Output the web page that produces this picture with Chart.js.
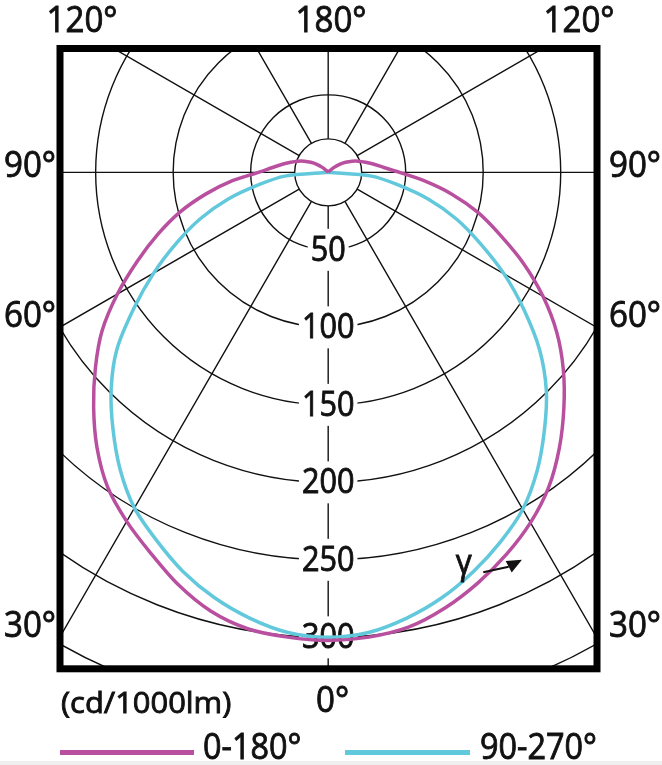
<!DOCTYPE html>
<html>
<head>
<meta charset="utf-8">
<script src="https://cdn.jsdelivr.net/npm/chart.js@4.4.0/dist/chart.umd.min.js"></script>
<style>
  html, body { margin: 0; padding: 0; background: #fff; }
  canvas { display: block; }
</style>
</head>
<body>
<canvas id="polarChart" width="662" height="765"></canvas>
<script>
// gamma angles (deg from nadir) and intensities in cd/1000lm
const GAMMA = [0, 5, 10, 15, 20, 25, 30, 35, 40, 45, 50, 55, 60, 65, 70, 75, 80, 85, 90,
  95, 100, 105, 110, 115, 120, 125, 130, 135, 140, 145, 150, 155, 160, 165, 170, 175, 180];

const C180 = [302, 301, 299, 293, 283, 271, 260, 248, 232, 214, 196, 178, 157, 136, 117, 99, 80, 62, 45,
  36, 30, 25, 21, 17, 13, 9, 5, 2, 1, 0, 0, 0, 0, 0, 0, 0, 0];
const C0 = [302, 301, 298, 291, 282, 272, 261, 248, 232, 215, 198, 180, 160, 139, 118, 100, 81, 62, 46,
  36, 30, 25, 21, 17, 13, 9, 5, 2, 1, 0, 0, 0, 0, 0, 0, 0, 0];
const C270 = [300, 298, 292, 284, 274, 262, 250, 234, 216, 198, 178, 153, 130, 108, 88, 67, 45, 28, 0,
  0, 0, 0, 0, 0, 0, 0, 0, 0, 0, 0, 0, 0, 0, 0, 0, 0, 0];
const C90 = [300, 298, 292, 284, 274, 263, 251, 235, 217, 199, 178, 154, 131, 108, 88, 67, 45, 28, 0,
  0, 0, 0, 0, 0, 0, 0, 0, 0, 0, 0, 0, 0, 0, 0, 0, 0, 0];

const RINGS = [50, 100, 150, 200, 250, 300, 350];
const RING_LABELS = [50, 100, 150, 200, 250, 300];
const RAY_ANGLES = [30, 60, 90, 120, 150, 180];
const HUB = 21.6;

const SERIES = ['0-180°', '90-270°'];
const COLORS = ['#b9509f', '#62c8dc'];

const FONT = '"Open Sans", "DejaVu Sans", sans-serif';
const rad = Math.PI / 180;

function side(values, sign) {
  return values.map((v, i) => ({
    x: sign * v * Math.sin(GAMMA[i] * rad),
    y: -v * Math.cos(GAMMA[i] * rad)
  }));
}

// closed curve: left half from 180 down to 0, right half from 0 back up to 180
function loop(left, right) {
  return side(left, -1).reverse().concat(side(right, 1).slice(1));
}

// slightly condensed, slightly heavier text
function text(ctx, s, x, y, size, align, sx) {
  ctx.save();
  ctx.font = size + 'px ' + FONT;
  ctx.translate(x, y);
  ctx.scale(sx || 0.92, 1);
  ctx.textAlign = align || 'left';
  ctx.strokeStyle = ctx.fillStyle;
  ctx.lineWidth = 0.9;
  ctx.fillText(s, 0, 0);
  ctx.strokeText(s, 0, 0);
  ctx.restore();
}

const gridPlugin = {
  id: 'polarGrid',
  beforeDatasetsDraw(chart) {
    const { ctx, chartArea: a, scales: { x, y } } = chart;
    const cx = x.getPixelForValue(0), cy = y.getPixelForValue(0);
    const k = x.getPixelForValue(1) - cx;
    const h = HUB * k;

    ctx.save();
    ctx.beginPath();
    ctx.rect(a.left, a.top, a.width, a.height);
    ctx.clip();
    ctx.strokeStyle = '#111';
    ctx.lineWidth = 1.4;

    RINGS.concat([HUB]).forEach(r => {
      ctx.beginPath();
      ctx.arc(cx, cy, r * k, 0, 2 * Math.PI);
      ctx.stroke();
    });

    ctx.beginPath();
    RAY_ANGLES.forEach(g => {
      [-1, 1].forEach(s => {
        const dx = s * Math.sin(g * rad), dy = Math.cos(g * rad);
        ctx.moveTo(cx + dx * h, cy + dy * h);
        ctx.lineTo(cx + dx * 2000, cy + dy * 2000);
      });
    });
    ctx.moveTo(cx, cy + h);
    ctx.lineTo(cx, a.bottom);
    ctx.stroke();

    ctx.textBaseline = 'middle';
    ctx.font = '34px ' + FONT;
    RING_LABELS.forEach(r => {
      const ly = y.getPixelForValue(-r);
      const w = ctx.measureText(String(r)).width * 0.9;
      ctx.fillStyle = '#fff';
      ctx.fillRect(cx - w / 2 - 3, ly - 21, w + 6, 42);
      ctx.fillStyle = '#111';
      text(ctx, String(r), cx, ly + 1, 34, 'center', 0.9);
    });
    ctx.restore();
  },
  afterDraw(chart) {
    const { ctx, chartArea: a, scales: { x, y } } = chart;
    ctx.save();
    ctx.strokeStyle = '#000';
    ctx.lineWidth = 7;
    ctx.strokeRect(a.left, a.top, a.width, a.height);

    ctx.fillStyle = '#111';
    ctx.textBaseline = 'alphabetic';
    text(ctx, '120°', 82, 32, 36, 'center');
    text(ctx, '180°', 331, 32, 36, 'center');
    text(ctx, '120°', 579, 32, 36, 'center');
    [['90°', 177], ['60°', 327], ['30°', 637]].forEach(([s, by]) => {
      text(ctx, s, 4, by, 36, 'left');
      text(ctx, s, 609, by, 36, 'left');
    });
    text(ctx, '0°', 316, 712, 36, 'left');
    text(ctx, '(cd/1000lm)', 61, 713, 30, 'left', 1.03);

    // gamma arrow
    const tail = [x.getPixelForValue(100), y.getPixelForValue(-258)];
    const tip = [x.getPixelForValue(125), y.getPixelForValue(-250)];
    const ang = Math.atan2(tip[1] - tail[1], tip[0] - tail[0]) - 10 * rad;
    const bx = tip[0] - 15 * Math.cos(ang), by = tip[1] - 15 * Math.sin(ang);
    ctx.strokeStyle = '#111';
    ctx.lineWidth = 2;
    ctx.beginPath();
    ctx.moveTo(tail[0], tail[1]);
    ctx.lineTo(bx, by);
    ctx.stroke();
    ctx.beginPath();
    ctx.moveTo(tip[0], tip[1]);
    ctx.lineTo(bx + 6.5 * Math.sin(ang), by - 6.5 * Math.cos(ang));
    ctx.lineTo(bx - 6.5 * Math.sin(ang), by + 6.5 * Math.cos(ang));
    ctx.closePath();
    ctx.fill();
    text(ctx, 'γ', x.getPixelForValue(87.5), y.getPixelForValue(-259), 34, 'center');

    // legend
    const items = [[60, 194, 203], [345, 470, 480]];
    items.forEach(([x0, x1, tx], i) => {
      ctx.strokeStyle = COLORS[i];
      ctx.lineWidth = 5;
      ctx.beginPath();
      ctx.moveTo(x0, 752.5);
      ctx.lineTo(x1, 752.5);
      ctx.stroke();
      ctx.fillStyle = '#111';
      text(ctx, SERIES[i], tx, 759, 36, 'left', 0.9);
    });

    ctx.fillStyle = '#efefef';
    ctx.fillRect(0, 761, 662, 4);
    ctx.restore();
  }
};

new Chart(document.getElementById('polarChart').getContext('2d'), {
  type: 'scatter',
  data: {
    datasets: [
      {
        label: SERIES[0],
        data: loop(C180, C0),
        showLine: true,
        borderColor: COLORS[0],
        borderWidth: 3.5,
        pointRadius: 0,
        tension: 0.3
      },
      {
        label: SERIES[1],
        data: loop(C270, C90),
        showLine: true,
        borderColor: COLORS[1],
        borderWidth: 3.5,
        pointRadius: 0,
        tension: 0.3
      }
    ]
  },
  options: {
    responsive: false,
    animation: false,
    layout: { padding: { left: 60, right: 65, top: 48.5, bottom: 96.2 } },
    scales: {
      x: { type: 'linear', min: -173.0, max: 173.4, display: false },
      y: { type: 'linear', min: -320.3, max: 79.9, display: false }
    },
    plugins: {
      legend: { display: false },
      tooltip: { enabled: false }
    }
  },
  plugins: [gridPlugin]
});
</script>
</body>
</html>
